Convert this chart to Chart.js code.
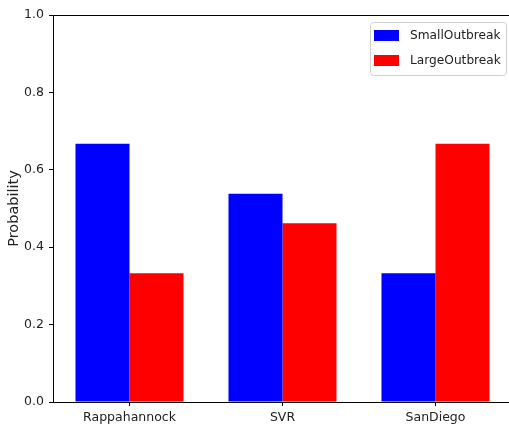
<!DOCTYPE html>
<html>
<head>
<meta charset="utf-8">
<script src="https://cdn.jsdelivr.net/npm/chart.js@4"></script>
<style>
  html, body { margin: 0; padding: 0; background: #fff; overflow: hidden; }
  #wrap { width: 509px; height: 430px; overflow: hidden; }
</style>
</head>
<body>
<div id="wrap"><canvas id="chart" width="516" height="430"></canvas></div>
<script>
const categories = ['Rappahannock', 'SVR', 'SanDiego'];
const smallOutbreak = [0.667, 0.538, 0.333];
const largeOutbreak = [0.333, 0.462, 0.667];
const yTicks = [0.0, 0.2, 0.4, 0.6, 0.8, 1.0];

const FONT = 'DejaVu Sans';

// top spine like matplotlib (right spine falls outside the picture)
const framePlugin = {
    id: 'frame',
    afterDraw(chart) {
        const a = chart.chartArea;
        const ctx = chart.ctx;
        ctx.save();
        ctx.strokeStyle = '#000';
        ctx.lineWidth = 1;
        ctx.beginPath();
        ctx.moveTo(a.left, a.top + 0.5);
        ctx.lineTo(a.right, a.top + 0.5);
        ctx.stroke();
        ctx.restore();
    }
};

// legend box in upper right corner, inside the axes
const legendPlugin = {
    id: 'boxLegend',
    afterDraw(chart) {
        const ctx = chart.ctx;
        const x = 370, y = 22, w = 136, h = 53;
        ctx.save();
        ctx.fillStyle = 'rgba(255,255,255,0.8)';
        ctx.strokeStyle = '#d0d0d0';
        ctx.lineWidth = 1;
        ctx.beginPath();
        ctx.roundRect(x + 0.5, y + 0.5, w, h, 3);
        ctx.fill();
        ctx.stroke();
        ctx.font = '12.2px "' + FONT + '"';
        ctx.textBaseline = 'middle';
        chart.data.datasets.forEach((ds, i) => {
            const ry = y + 8 + i * 25;
            ctx.fillStyle = ds.backgroundColor;
            ctx.fillRect(x + 4, ry, 25, 11);
            ctx.fillStyle = '#222';
            ctx.fillText(ds.label, x + 40, ry + 5.5);
        });
        ctx.restore();
    }
};

new Chart(document.getElementById('chart'), {
    type: 'bar',
    data: {
        labels: categories,
        datasets: [
            { label: 'SmallOutbreak', data: smallOutbreak, backgroundColor: '#0000ff' },
            { label: 'LargeOutbreak', data: largeOutbreak, backgroundColor: '#ff0000' }
        ]
    },
    options: {
        responsive: false,
        animation: false,
        layout: { padding: { top: 15, right: 4, left: 0, bottom: 0 } },
        datasets: { bar: { categoryPercentage: 0.706, barPercentage: 1.0 } },
        plugins: {
            legend: { display: false },
            tooltip: { enabled: false }
        },
        scales: {
            x: {
                grid: { offset: false, drawOnChartArea: false, tickLength: 4, tickColor: '#000', tickWidth: 1 },
                border: { color: '#000', width: 1 },
                ticks: { color: '#222', font: { family: FONT, size: 12.5 }, padding: 4 },
                afterFit: s => { s.height = 28; }
            },
            y: {
                min: 0,
                max: 1,
                afterBuildTicks: s => { s.ticks = yTicks.map(v => ({ value: v })); },
                grid: { drawOnChartArea: false, tickLength: 4, tickColor: '#000', tickWidth: 1 },
                border: { color: '#000', width: 1 },
                ticks: {
                    color: '#222',
                    font: { family: FONT, size: 12.5 },
                    padding: 5,
                    callback: v => v.toFixed(1)
                },
                title: {
                    display: true,
                    text: 'Probability',
                    color: '#222',
                    font: { family: FONT, size: 14.5 },
                    padding: { top: 6, bottom: 0 }
                },
                afterFit: s => { s.width = 53; }
            }
        }
    },
    plugins: [framePlugin, legendPlugin]
});
</script>
</body>
</html>
